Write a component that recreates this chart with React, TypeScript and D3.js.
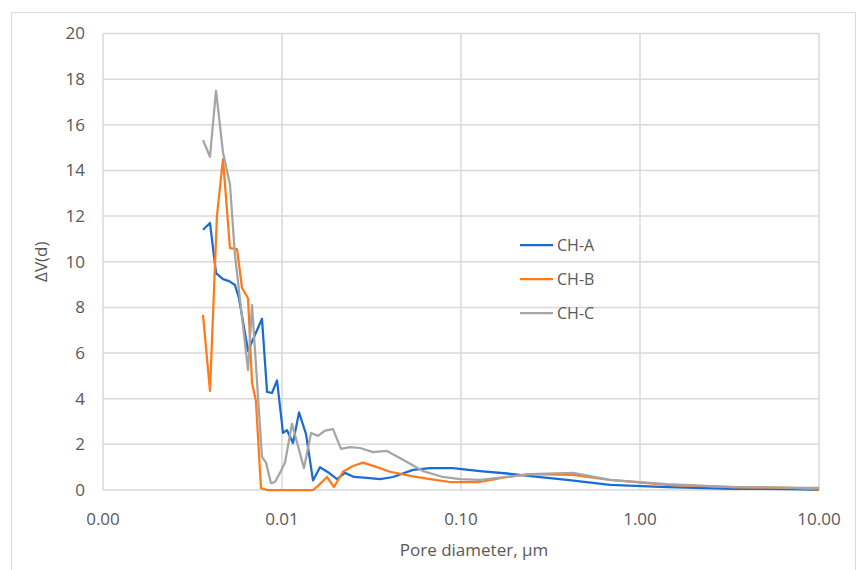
import React from "react";
import * as d3 from "d3";

const xTicks = [0.001, 0.01, 0.1, 1, 10];
const xTickLabels = ["0.00", "0.01", "0.10", "1.00", "10.00"];
const yTicks = [0, 2, 4, 6, 8, 10, 12, 14, 16, 18, 20];

const chA_d = [0.00362, 0.00396, 0.00428, 0.00468, 0.00506, 0.00546, 0.00575, 0.00646, 0.00773, 0.00825, 0.00879, 0.00938, 0.01013, 0.01066, 0.01152, 0.01245, 0.01362, 0.0149, 0.0163, 0.01807, 0.02029, 0.02249, 0.02525, 0.02985, 0.03528, 0.04171, 0.05393, 0.06712, 0.09023, 0.1276, 0.1952, 0.2525, 0.391, 0.68, 1.415, 3.308, 7.155, 10];
const chA_v = [11.4, 11.7, 9.5, 9.24, 9.15, 8.98, 8.4, 6.1, 7.5, 4.3, 4.25, 4.8, 2.5, 2.62, 2.06, 3.4, 2.45, 0.42, 1.0, 0.78, 0.48, 0.75, 0.57, 0.53, 0.48, 0.57, 0.88, 0.96, 0.96, 0.83, 0.7, 0.6, 0.44, 0.22, 0.13, 0.05, 0.04, 0.0];

const chB_d = [0.00362, 0.00396, 0.00433, 0.00468, 0.00512, 0.00561, 0.00598, 0.00646, 0.0068, 0.00715, 0.00763, 0.00825, 0.0088, 0.0101, 0.0115, 0.0133, 0.0149, 0.01589, 0.01784, 0.01952, 0.02192, 0.02493, 0.02835, 0.03394, 0.04013, 0.05393, 0.06712, 0.08683, 0.1276, 0.1807, 0.243, 0.4223, 0.68, 1.415, 3.308, 7.155, 10];
const chB_v = [7.67, 4.34, 12.0, 14.5, 10.6, 10.55, 8.85, 8.4, 4.7, 3.9, 0.08, 0, 0, 0, 0, 0, 0, 0.18, 0.57, 0.13, 0.8, 1.05, 1.2, 1.0, 0.8, 0.6, 0.48, 0.35, 0.35, 0.57, 0.7, 0.66, 0.44, 0.22, 0.13, 0.09, 0.02];

const chC_d = [0.00362, 0.00396, 0.00428, 0.00468, 0.00512, 0.00546, 0.00646, 0.0068, 0.00773, 0.00814, 0.00868, 0.00914, 0.00974, 0.01039, 0.01137, 0.01327, 0.01453, 0.01589, 0.01739, 0.01927, 0.02136, 0.02399, 0.02729, 0.03224, 0.03862, 0.04993, 0.06135, 0.07933, 0.0987, 0.1276, 0.1807, 0.243, 0.4223, 0.68, 1.415, 3.308, 7.534, 10];
const chC_v = [15.33, 14.6, 17.5, 14.8, 13.4, 10.3, 5.25, 8.1, 1.45, 1.2, 0.3, 0.35, 0.75, 1.2, 2.9, 0.96, 2.5, 2.37, 2.6, 2.67, 1.8, 1.88, 1.84, 1.66, 1.71, 1.23, 0.83, 0.57, 0.48, 0.44, 0.57, 0.7, 0.75, 0.44, 0.26, 0.13, 0.09, 0.09];

const seriesNames = ["CH-A", "CH-B", "CH-C"];
const seriesColors = ["#1a6dd0", "#ff7a1a", "#a5a5a5"];

export default function App() {
  const W = 866, H = 570;
  const left = 103, right = 819, top = 33.5, bottom = 490;
  const x = d3.scaleLog().domain([0.001, 10]).range([left, right]);
  const y = d3.scaleLinear().domain([0, 20]).range([bottom, top]);
  const series = [
    { d: chA_d, v: chA_v },
    { d: chB_d, v: chB_v },
    { d: chC_d, v: chC_v },
  ];
  const line = d3.line<[number, number]>().x((p) => x(p[0])).y((p) => y(p[1]));
  const font = "'Open Sans', sans-serif";
  const textColor = "#595959";
  const grid = "#d9d9d9";
  const legendY = [245, 279, 313];
  return (
    <svg width={W} height={H} style={{ position: "absolute", left: 0, top: 0 }}>
      <rect x={0} y={0} width={W} height={H} fill="#fff" />
      <rect x={11.5} y={12.5} width={844} height={600} fill="none" stroke={grid} strokeWidth={1} />
      {yTicks.map((t) => (
        <line key={"gy" + t} x1={left} x2={right} y1={y(t)} y2={y(t)} stroke={grid} strokeWidth={1.5} />
      ))}
      {xTicks.map((t) => (
        <line key={"gx" + t} x1={x(t)} x2={x(t)} y1={top} y2={bottom} stroke={grid} strokeWidth={1.5} />
      ))}
      {yTicks.map((t) => (
        <text key={"ty" + t} x={85} y={y(t)} dy="0.35em" textAnchor="end" fontFamily={font} fontSize={17} fill={textColor}>
          {t}
        </text>
      ))}
      {xTicks.map((t, i) => (
        <text key={"tx" + t} x={x(t)} y={519} dy="0.35em" textAnchor="middle" fontFamily={font} fontSize={17} fill={textColor}>
          {xTickLabels[i]}
        </text>
      ))}
      <text x={(left + right) / 2 + 13} y={550} dy="0.35em" textAnchor="middle" fontFamily={font} fontSize={17} fill={textColor}>
        Pore diameter, µm
      </text>
      <text transform={`translate(41,${(top + bottom) / 2}) rotate(-90)`} textAnchor="middle" dy="0.35em" fontFamily={font} fontSize={17} fill={textColor}>
        ΔV(d)
      </text>
      {series.map((s, i) => (
        <path
          key={"s" + i}
          d={line(s.d.map((dd, j) => [dd, s.v[j]] as [number, number])) || ""}
          fill="none"
          stroke={seriesColors[i]}
          strokeWidth={2.25}
          strokeLinejoin="round"
        />
      ))}
      {seriesNames.map((n, i) => (
        <g key={"l" + n}>
          <line x1={520} x2={553} y1={legendY[i]} y2={legendY[i]} stroke={seriesColors[i]} strokeWidth={2.25} />
          <text x={557} y={legendY[i]} dy="0.35em" fontFamily={font} fontSize={16} fill={textColor}>
            {n}
          </text>
        </g>
      ))}
    </svg>
  );
}
